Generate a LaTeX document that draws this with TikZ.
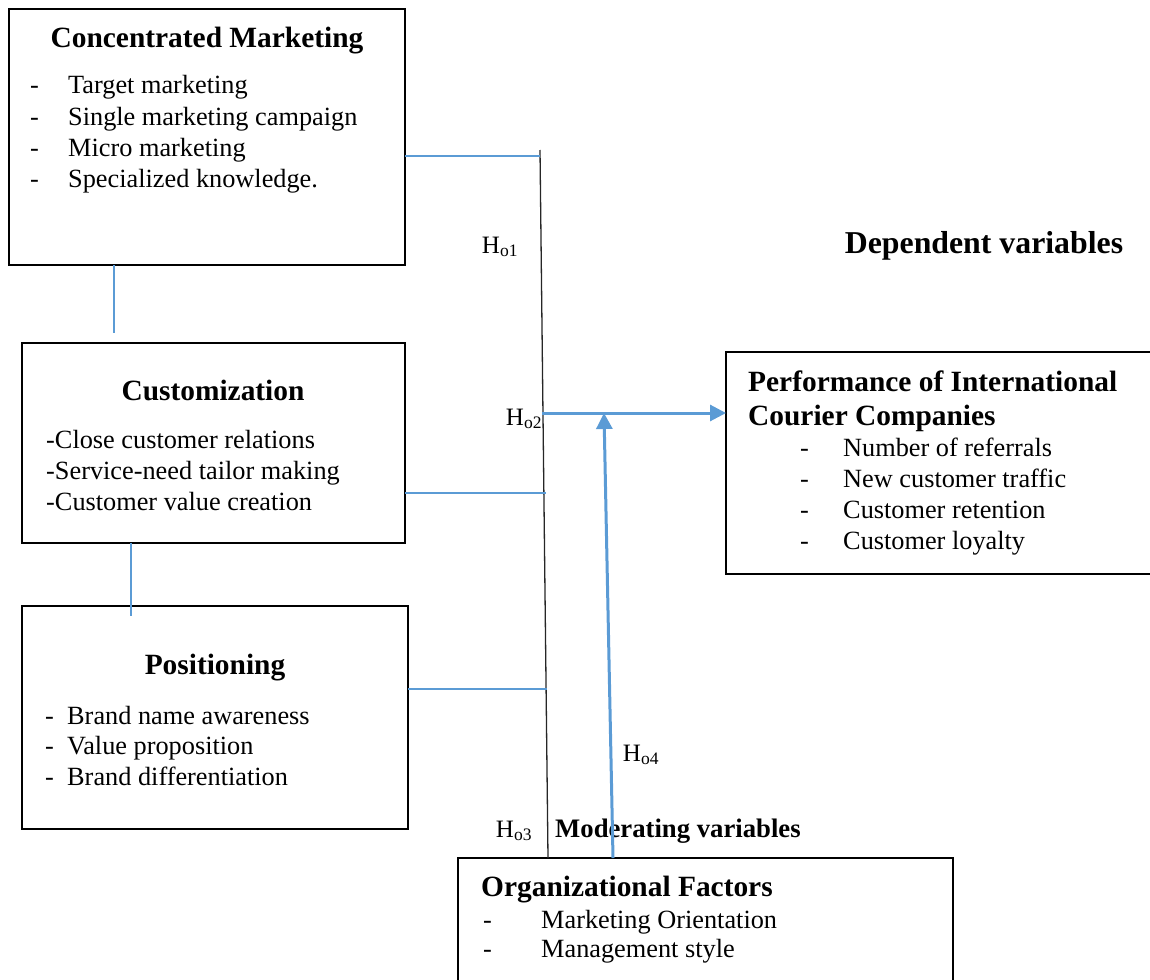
\documentclass[tikz,border=0pt]{standalone}
\usepackage{fontspec}
\setmainfont{Liberation Serif}
\usetikzlibrary{arrows.meta}
\definecolor{lblue}{RGB}{91,155,213}
\tikzset{
  box/.style={draw, line width=2.5pt, rectangle, inner sep=0pt, outer sep=0pt, anchor=north west},
  body/.style={font=\fontsize{26.3}{31}\selectfont, inner sep=0pt, anchor=base west},
  ttl/.style={font=\fontsize{29.4}{34}\selectfont\bfseries, inner sep=0pt, anchor=base},
  ttlw/.style={font=\fontsize{29.4}{34}\selectfont\bfseries, inner sep=0pt, anchor=base west},
  hyp/.style={font=\fontsize{25}{29}\selectfont, inner sep=0pt, anchor=base},
  link/.style={draw=lblue, line width=1.5pt},
  bigarrow/.style={draw=lblue, line width=3pt, -{Triangle[length=16pt,width=16pt]}},
  bus/.style={draw=black!85, line width=1.3pt},
}
\newcommand{\Hy}[1]{H\textsubscript{o#1}}
\begin{document}
\begin{tikzpicture}[x=1pt,y=-1pt]
\useasboundingbox (0,0) rectangle (1150,979);
% boxes
\node[box, minimum width=396pt, minimum height=256pt] (cm) at (9,9) {};
\node[box, minimum width=383pt, minimum height=200pt] (cu) at (22,343) {};
\node[box, minimum width=386pt, minimum height=223pt] (po) at (22,606) {};
\node[box, minimum width=440pt, minimum height=222pt] (pf) at (726,352) {};
\node[box, minimum width=495pt, minimum height=140pt] (of) at (458,858) {};
% Concentrated Marketing
\node[ttl] (cmt) at (207,48) {Concentrated Marketing};
\node[body] (cm1) at (30,94) {-};
\node[body] (cm1t) at (68,94) {Target marketing};
\node[body] (cm2) at (30,125) {-};
\node[body] (cm2t) at (68,125) {Single marketing campaign};
\node[body] (cm3) at (30,156) {-};
\node[body] (cm3t) at (68,156) {Micro marketing};
\node[body] (cm4) at (30,187) {-};
\node[body] (cm4t) at (68,187) {Specialized knowledge.};
% Customization
\node[ttl] (cut) at (213,400) {Customization};
\node[body] (cu1) at (46,448) {-Close customer relations};
\node[body] (cu2) at (46,479) {-Service-need tailor making};
\node[body] (cu3) at (46,510) {-Customer value creation};
% Positioning
\node[ttl] (pot) at (215,674) {Positioning};
\node[body] (po1) at (45,724) {-};
\node[body] (po1t) at (67,724) {Brand name awareness};
\node[body] (po2) at (45,754) {-};
\node[body] (po2t) at (67,754) {Value proposition};
\node[body] (po3) at (45,785) {-};
\node[body] (po3t) at (67,785) {Brand differentiation};
% Performance
\node[ttlw] (pft1) at (748,391) {Performance of International};
\node[ttlw] (pft2) at (748,425) {Courier Companies};
\node[body] (pf1) at (800,456) {-};
\node[body] (pf1t) at (843,456) {Number of referrals};
\node[body] (pf2) at (800,487) {-};
\node[body] (pf2t) at (843,487) {New customer traffic};
\node[body] (pf3) at (800,518) {-};
\node[body] (pf3t) at (843,518) {Customer retention};
\node[body] (pf4) at (800,549) {-};
\node[body] (pf4t) at (843,549) {Customer loyalty};
% Organizational
\node[ttlw] (oft) at (481,896) {Organizational Factors};
\node[body] (of1) at (483,928) {-};
\node[body] (of1t) at (541,928) {Marketing Orientation};
\node[body] (of2) at (483,957) {-};
\node[body] (of2t) at (541,957) {Management style};
% free labels
\node[font=\fontsize{31.8}{36}\selectfont\bfseries, inner sep=0pt, anchor=base] (dep) at (984,253) {Dependent variables};
\node[font=\fontsize{26.7}{31}\selectfont\bfseries, inner sep=0pt, anchor=base west] (mod) at (555,837) {Moderating variables};
\node[hyp] (h1) at (500,253) {\Hy{1}};
\node[hyp] (h2) at (524,425) {\Hy{2}};
\node[hyp] (h3) at (514,837) {\Hy{3}};
\node[hyp] (h4) at (641,761) {\Hy{4}};
% bus
\coordinate (bt) at (540,150);
\coordinate (bb) at (548,858);
\coordinate (j1) at (540.1,156);
\coordinate (j2) at (545.5,493);
\coordinate (j3) at (546.7,689);
\draw[bus] (bt) -- (bb);
\draw[link] (cm.east |- j1) -- (j1);
\draw[link] (cu.east |- j2) -- (j2);
\draw[link] (po.east |- j3) -- (j3);
% vertical links
\coordinate (c1) at (114,333);
\coordinate (c2) at (131,616);
\draw[link] (c1 |- cm.south) -- (c1);
\draw[link] (c2 |- cu.south) -- (c2);
% arrows
\coordinate (h2s) at (542,413);
\coordinate (mtop) at (604,413);
\coordinate (mx) at (613,0);
\draw[bigarrow] (h2s) -- (pf.west |- h2s);
\draw[bigarrow] (of.north -| mx) -- (mtop);
\end{tikzpicture}
\end{document}
